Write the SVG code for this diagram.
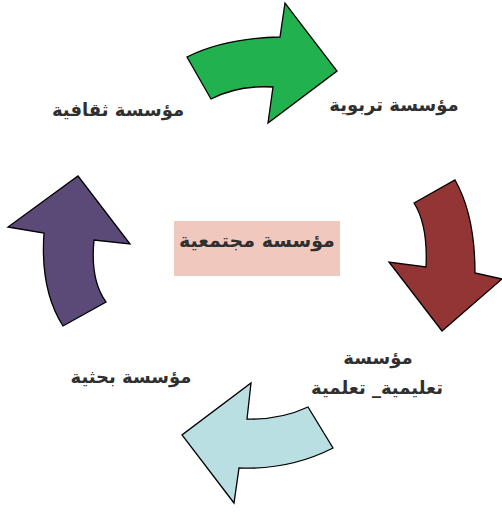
<svg xmlns="http://www.w3.org/2000/svg" width="502" height="512" viewBox="0 0 502 512">
<style>
.arr{stroke:#000;stroke-width:1.3;stroke-linejoin:miter}
.lbl{font-family:"DejaVu Sans",sans-serif;font-weight:bold;font-size:18px;fill:#2f2f2f;text-anchor:middle}
</style>
<rect width="502" height="512" fill="#fff"/>
<g id="connectors">
<path id="arrow-green" class="arr" fill="#22b14f" d="M187,57 Q225,38 280,37 L285,3 L337,71 L268,123 L273,87 Q238,85 211,99 Z"/>
<path id="arrow-red" class="arr" fill="#943535" d="M414,203 L455,180 Q475,215 475,273 L502,279 L442,331 L389,262 L426,267 Q428,225 414,203 Z"/>
<path id="arrow-cyan" class="arr" fill="#b9dfe2" d="M333,448 Q290,470 239,468 L234,503 L182,435 L251,383 L247,419 Q280,420 308,407 Z"/>
<path id="arrow-purple" class="arr" fill="#5b4a78" d="M63,326 Q40,290 44,233 L8,227 L78,176 L130,244 L94,240 Q90,280 106,302 Z"/>
</g>
<g id="node-center">
<rect x="174" y="221" width="166" height="55" fill="#f0c8be"/>
<text class="lbl" x="257" y="247" style="font-size:19px">مؤسسة مجتمعية</text>
</g>
<g id="node-tarbawiya"><text class="lbl" x="394" y="111">مؤسسة تربوية</text></g>
<g id="node-thaqafiya"><text class="lbl" x="118" y="116">مؤسسة ثقافية</text></g>
<g id="node-bahthiya"><text class="lbl" x="131" y="383">مؤسسة بحثية</text></g>
<g id="node-taalimiya">
<text class="lbl" x="378" y="364">مؤسسة</text>
<text class="lbl" x="377" y="394">تعليمية_ تعلمية</text>
</g>
</svg>
